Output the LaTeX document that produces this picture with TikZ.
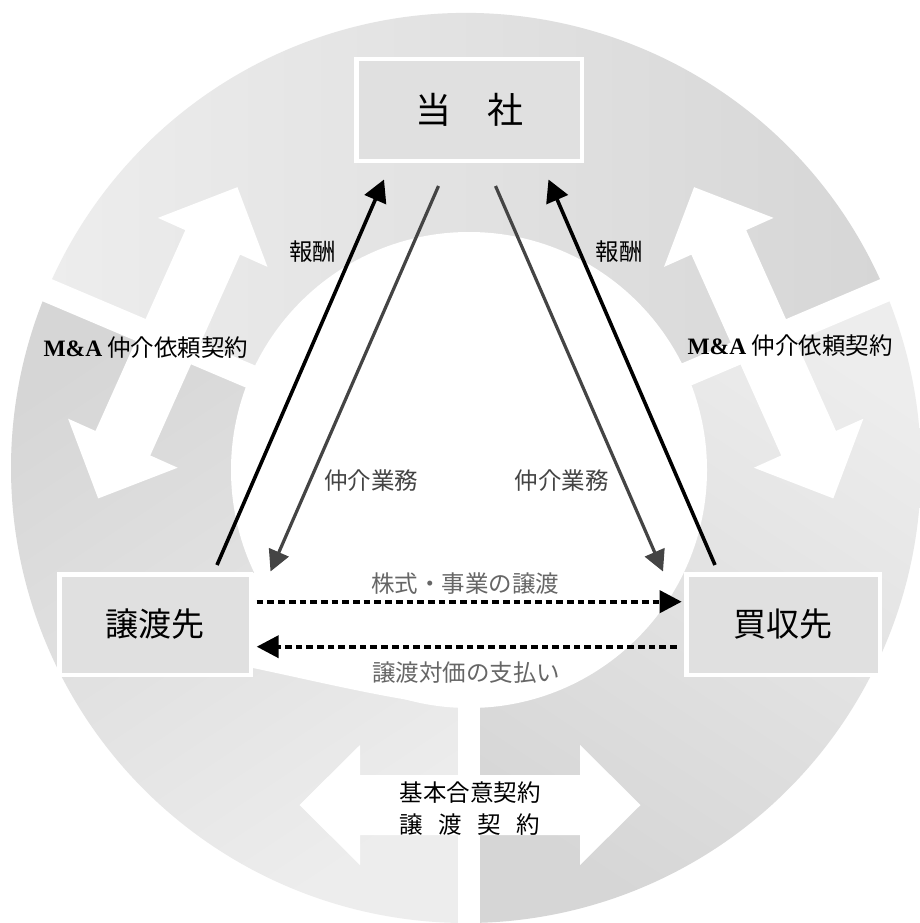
\documentclass[tikz,border=0pt]{standalone}
\usepackage{fontspec}
\newfontfamily\jp{Noto Sans CJK JP}
\newfontfamily\lat{Liberation Serif}
\usetikzlibrary{arrows.meta}
\definecolor{ringdark}{HTML}{D6D6D6}
\definecolor{ringlight}{HTML}{EDEDED}
\definecolor{boxgray}{HTML}{E0E0E0}
\definecolor{midgray}{HTML}{444444}
\definecolor{lightgray}{HTML}{666666}
\begin{document}
\begin{tikzpicture}[x=1pt,y=-1pt,
  box/.style={draw=white, line width=4.5pt, fill=boxgray, inner sep=0pt, font=\jp\fontsize{33}{40}\selectfont},
  lbl/.style={inner sep=0pt, font=\jp\fontsize{23.5}{28}\selectfont},
  feearrow/.style={line width=3.6pt, -{Triangle[length=22pt,width=23pt]}},
  servarrow/.style={line width=3.2pt, draw=midgray, -{Triangle[length=21pt,width=21pt]}},
  dotarrow/.style={line width=4pt, dash pattern=on 6.7pt off 4pt, -{Triangle[length=22pt,width=22pt]}},
  dblarrow/.pic={\fill[white] (-170.5,0) -- (-110,-60) -- (-110,-30) -- (110,-30) -- (110,-60) -- (170.5,0) -- (110,60) -- (110,30) -- (-110,30) -- (-110,60) -- cycle;}
]
\useasboundingbox (0,0) rectangle (920,923);
\fill[white] (0,0) rectangle (920,923);
% ring sectors
\path[left color=ringlight, right color=ringdark] (466,468) -- ++(-23:455) arc[start angle=-23, end angle=-157, radius=455] -- cycle;
\path[top color=ringlight, bottom color=ringdark, shading angle=-146.5] (466,468) -- ++(-157:455) arc[start angle=-157, end angle=-270, radius=455] -- cycle;
\path[top color=ringlight, bottom color=ringdark, shading angle=-33.5] (466,468) -- ++(-270:455) arc[start angle=-270, end angle=-383, radius=455] -- cycle;
% gaps
\draw[white, line width=24pt] (466,468) -- ++(-157:480);
\draw[white, line width=24pt] (466,468) -- ++(-23:480);
\draw[white, line width=22pt] (469,468) -- (469,940);
% inner white area
\fill[white] (469,470) circle[radius=238];
\fill[white] (253,573) -- (253,668) .. controls (320,682) and (400,702) .. (469,708) -- (469,470) -- cycle;
% white double arrows
\path (167.8,342.8) pic[rotate=65.9]{dblarrow};
\path (763.7,342.8) pic[rotate=-65.9]{dblarrow};
\path (470,805) pic{dblarrow};
% boxes
\node[box, minimum width=225.5pt, minimum height=101.5pt] (tousha) at (469,110) {\fontsize{36}{40}\selectfont 当　社};
\node[box, minimum width=191.5pt, minimum height=100.5pt] (joto) at (155,624.5) {譲渡先};
\node[box, minimum width=193.5pt, minimum height=100.5pt] (kaishu) at (783,624.5) {買収先};
% connector end points
\coordinate (f1s) at (217,565);
\coordinate (f1e) at (384,179.5);
\coordinate (f2s) at (715,565);
\coordinate (f2e) at (548.5,179.5);
\coordinate (s1s) at (438.5,186);
\coordinate (s1e) at (270.5,571.5);
\coordinate (s2s) at (495.5,186);
\coordinate (s2e) at (663,571.5);
\coordinate (d1s) at (256.7,601.7);
\coordinate (d1e) at (681.7,601.7);
\coordinate (d2s) at (676.7,646.7);
\coordinate (d2e) at (256.7,646.7);
% arrows
\draw[feearrow] (f1s) -- (f1e);
\draw[feearrow] (f2s) -- (f2e);
\draw[servarrow] (s1s) -- (s1e);
\draw[servarrow] (s2s) -- (s2e);
\draw[dotarrow] (d1s) -- (d1e);
\draw[dotarrow] (d2s) -- (d2e);
% labels
\node[lbl] (fee1) at (312.5,251.7) {報酬};
\node[lbl] (fee2) at (619,252) {報酬};
\node[lbl, text=midgray] (serv1) at (371,481) {仲介業務};
\node[lbl, text=midgray] (serv2) at (561.7,481) {仲介業務};
\node[lbl, text=lightgray] (kabu) at (465,584) {株式・事業の譲渡};
\node[lbl, text=lightgray] (taika) at (466,672.5) {譲渡対価の支払い};
\node[lbl] (ma1) at (146,347.5) {{\lat\bfseries M\&A} 仲介依頼契約};
\node[lbl] (ma2) at (790,346) {{\lat\bfseries M\&A} 仲介依頼契約};
\node[lbl] (kihon) at (470,792.5) {基本合意契約};
\node[lbl] (jotokei) at (470,824.5) {譲\hspace{15.5pt}渡\hspace{15.5pt}契\hspace{15.5pt}約};
\end{tikzpicture}
\end{document}
